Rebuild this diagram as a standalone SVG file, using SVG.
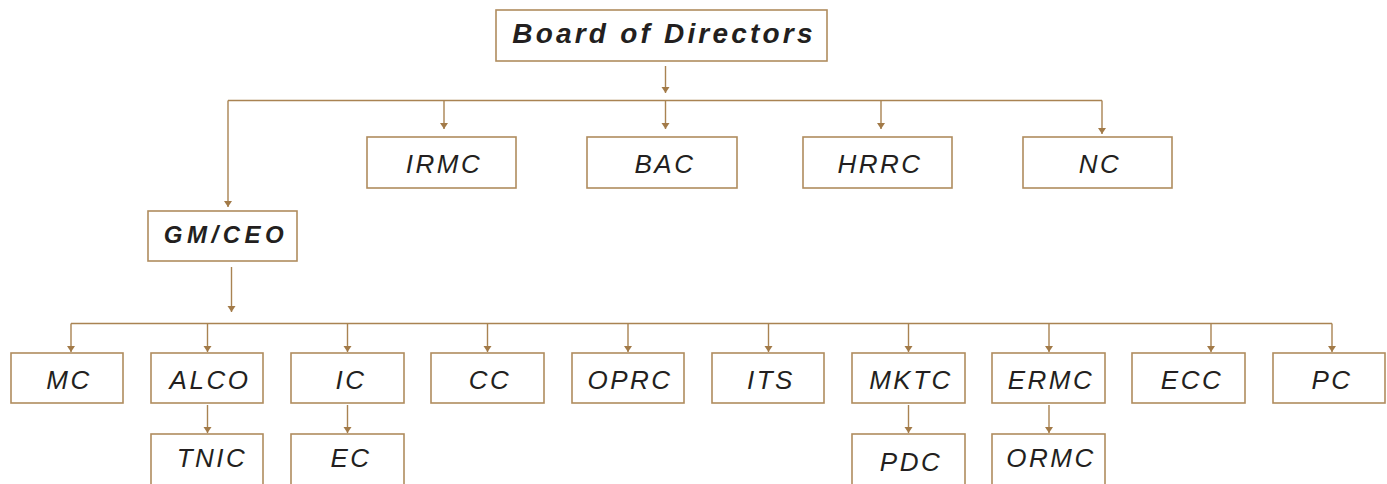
<svg xmlns="http://www.w3.org/2000/svg" width="1387" height="484" viewBox="0 0 1387 484">
<defs>
<marker id="ah" markerUnits="userSpaceOnUse" markerWidth="10" markerHeight="8" viewBox="0 0 10 8" refX="5" refY="6" orient="0">
<path d="M1,0 L9,0 L5,6 Z" fill="#a27a48"/>
</marker>
<style>
.box{fill:#fff;stroke:#b08c5e;stroke-width:1.6}
.t{font-family:"Liberation Sans",Arial,sans-serif;font-style:italic;font-size:26px;letter-spacing:2.5px;fill:#231f20;text-anchor:middle}
.b{font-weight:bold;font-size:28px;letter-spacing:3.2px}
.g{font-weight:bold;font-size:24px;letter-spacing:4.5px}
.c line,.c path{stroke:#a98352;stroke-width:1.4;fill:none}
.ar{marker-end:url(#ah)}
</style>
</defs>
<rect width="1387" height="484" fill="#fff"/>
<g class="c" id="connectors">
<line class="ar" x1="665.5" y1="66" x2="665.5" y2="93"/>
<line x1="228" y1="100.5" x2="1102" y2="100.5"/>
<line class="ar" x1="444" y1="100.5" x2="444" y2="129"/>
<line class="ar" x1="665.5" y1="100.5" x2="665.5" y2="129"/>
<line class="ar" x1="881" y1="100.5" x2="881" y2="129"/>
<line class="ar" x1="1102" y1="100.5" x2="1102" y2="134"/>
<line class="ar" x1="228" y1="100.5" x2="228" y2="207"/>
<line class="ar" x1="231.5" y1="267" x2="231.5" y2="312"/>
<line x1="71" y1="323.5" x2="1332" y2="323.5"/>
<line class="ar" x1="71" y1="323.5" x2="71" y2="352"/>
<line class="ar" x1="207.5" y1="323.5" x2="207.5" y2="352"/>
<line class="ar" x1="347.5" y1="323.5" x2="347.5" y2="352"/>
<line class="ar" x1="487.5" y1="323.5" x2="487.5" y2="352"/>
<line class="ar" x1="628" y1="323.5" x2="628" y2="352"/>
<line class="ar" x1="768.5" y1="323.5" x2="768.5" y2="352"/>
<line class="ar" x1="908.5" y1="323.5" x2="908.5" y2="352"/>
<line class="ar" x1="1049" y1="323.5" x2="1049" y2="352"/>
<line class="ar" x1="1211" y1="323.5" x2="1211" y2="352"/>
<line class="ar" x1="1332" y1="323.5" x2="1332" y2="352"/>
<line class="ar" x1="207.5" y1="405" x2="207.5" y2="433"/>
<line class="ar" x1="347.5" y1="405" x2="347.5" y2="433"/>
<line class="ar" x1="908.5" y1="405" x2="908.5" y2="433"/>
<line class="ar" x1="1049" y1="405" x2="1049" y2="433"/>
</g>
<g id="board"><rect class="box" x="496" y="10" width="331" height="51"/><text class="t b" x="664" y="43">Board of Directors</text></g>
<g id="irmc"><rect class="box" x="367" y="137" width="149" height="51"/><text class="t" x="444" y="173">IRMC</text></g>
<g id="bac"><rect class="box" x="587" y="137" width="150" height="51"/><text class="t" x="665" y="173">BAC</text></g>
<g id="hrrc"><rect class="box" x="803" y="137" width="149" height="51"/><text class="t" x="880" y="173">HRRC</text></g>
<g id="nc"><rect class="box" x="1023" y="137" width="149" height="51"/><text class="t" x="1100" y="173">NC</text></g>
<g id="gmceo"><rect class="box" x="148" y="211" width="149" height="50"/><text class="t g" x="226" y="243">GM/CEO</text></g>
<g id="mc"><rect class="box" x="11" y="353" width="112" height="50"/><text class="t" x="69" y="389">MC</text></g>
<g id="alco"><rect class="box" x="151" y="353" width="112" height="50"/><text class="t" x="210" y="389">ALCO</text></g>
<g id="ic"><rect class="box" x="291" y="353" width="113" height="50"/><text class="t" x="351" y="389">IC</text></g>
<g id="cc"><rect class="box" x="431" y="353" width="113" height="50"/><text class="t" x="490" y="389">CC</text></g>
<g id="oprc"><rect class="box" x="572" y="353" width="112" height="50"/><text class="t" x="630" y="389">OPRC</text></g>
<g id="its"><rect class="box" x="712" y="353" width="112" height="50"/><text class="t" x="771" y="389">ITS</text></g>
<g id="mktc"><rect class="box" x="852" y="353" width="113" height="50"/><text class="t" x="911" y="389">MKTC</text></g>
<g id="ermc"><rect class="box" x="992" y="353" width="113" height="50"/><text class="t" x="1051" y="389">ERMC</text></g>
<g id="ecc"><rect class="box" x="1132" y="353" width="113" height="50"/><text class="t" x="1192" y="389">ECC</text></g>
<g id="pc"><rect class="box" x="1273" y="353" width="112" height="50"/><text class="t" x="1332" y="389">PC</text></g>
<g id="tnic"><rect class="box" x="151" y="434" width="112" height="70"/><text class="t" x="212" y="467">TNIC</text></g>
<g id="ec"><rect class="box" x="291" y="434" width="113" height="70"/><text class="t" x="351" y="467">EC</text></g>
<g id="pdc"><rect class="box" x="852" y="434" width="113" height="70"/><text class="t" x="911" y="471">PDC</text></g>
<g id="ormc"><rect class="box" x="992" y="434" width="113" height="70"/><text class="t" x="1051" y="467">ORMC</text></g>
</svg>
